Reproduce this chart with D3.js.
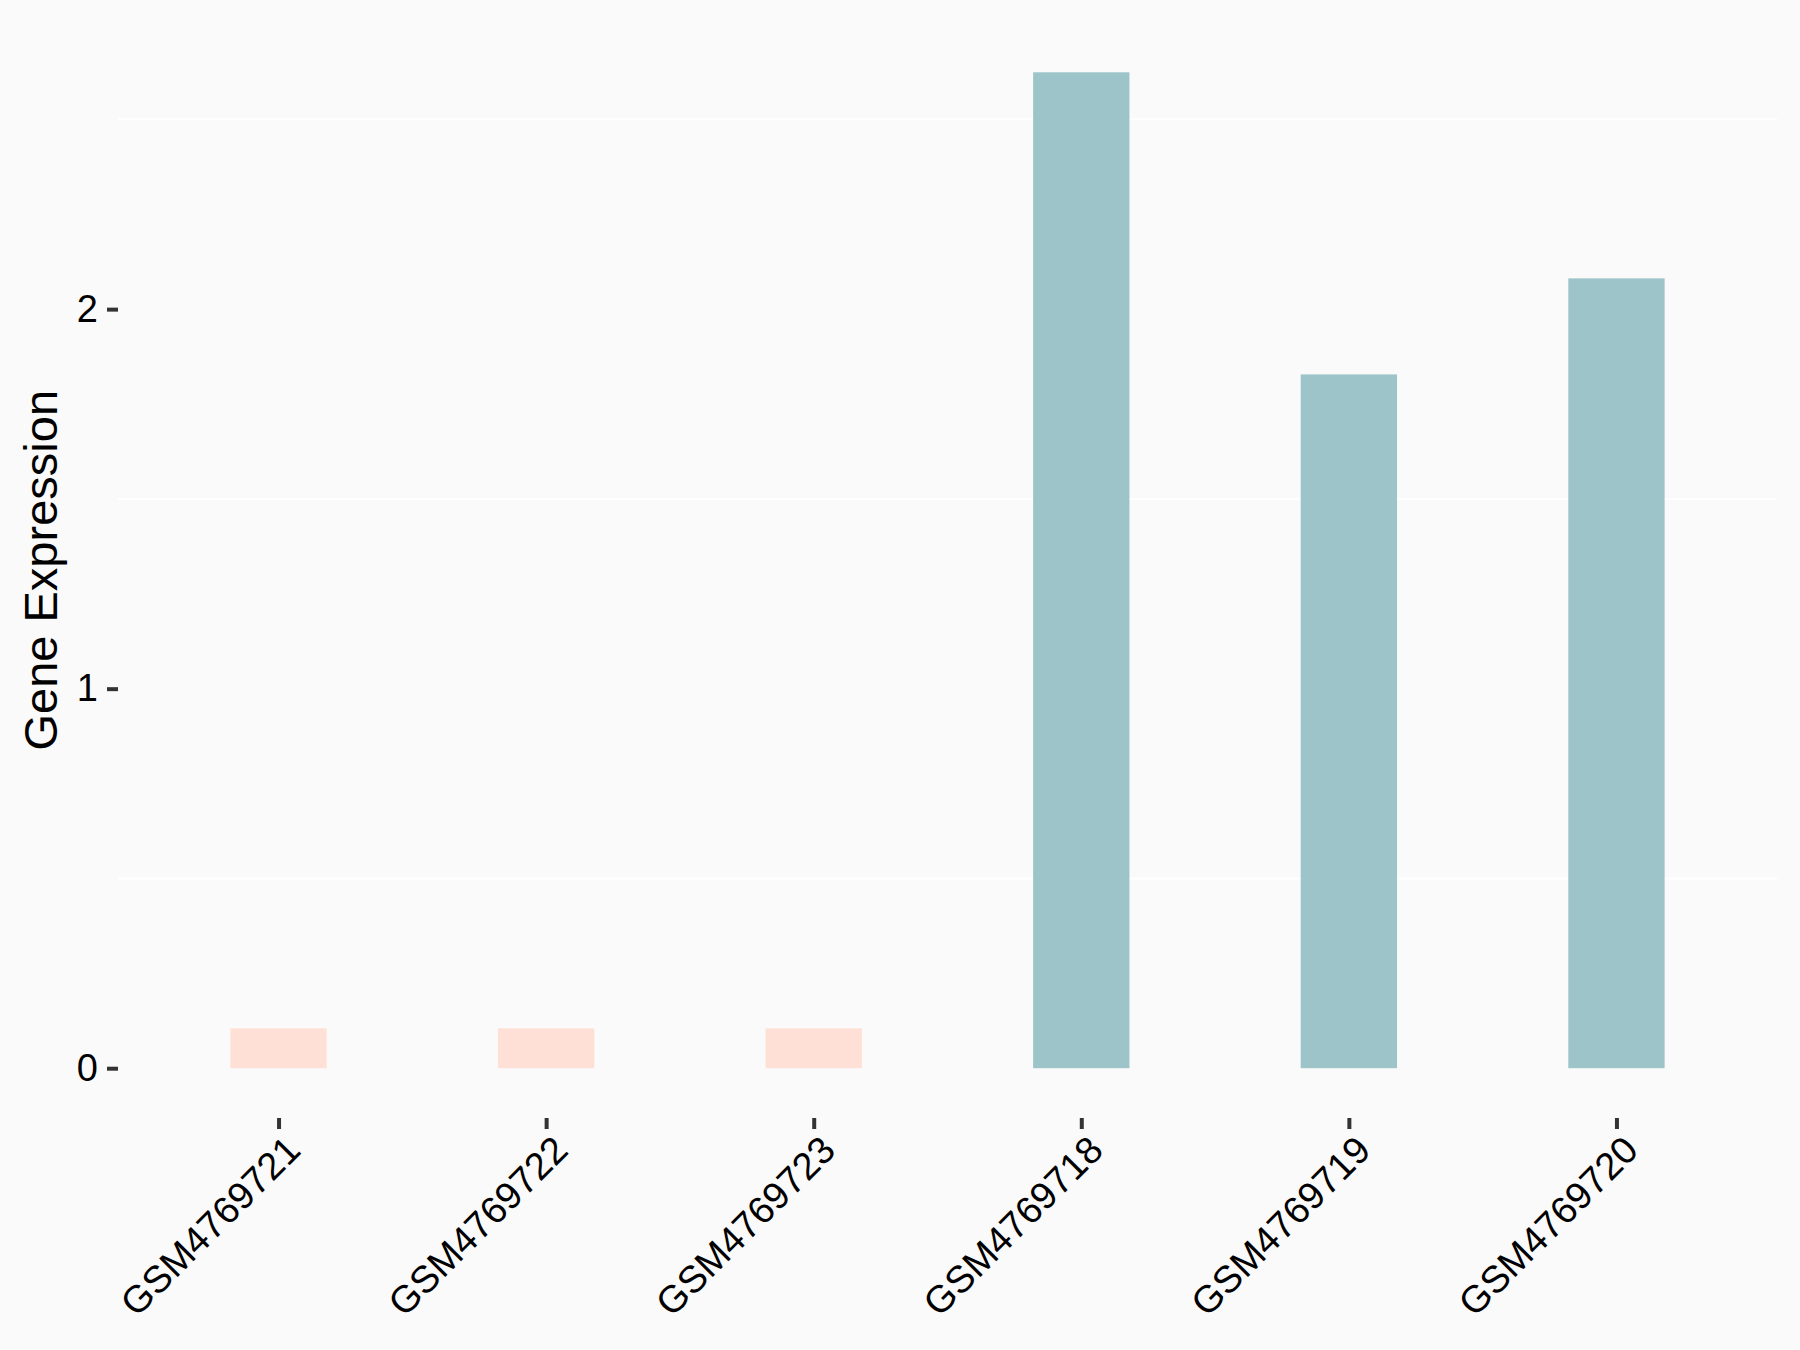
<!DOCTYPE html>
<html>
<head>
<meta charset="utf-8">
<script src="https://cdn.jsdelivr.net/npm/d3@7"></script>
<style>
  html, body { margin: 0; padding: 0; background: #FAFAFA; }
  svg { display: block; }
</style>
</head>
<body>
<script>
// ---- data ----
const samples = ["GSM4769721", "GSM4769722", "GSM4769723", "GSM4769718", "GSM4769719", "GSM4769720"];
const groups  = ["low", "low", "low", "high", "high", "high"];
const values  = [0.105, 0.105, 0.105, 2.624, 1.828, 2.081];
const yTicks  = [0, 1, 2];
const yMinorGrid = [0.5, 1.5, 2.5];
const groupColors = { low: "#FFE0D6", high: "#9DC4C8" };

const W = 1800, H = 1350;
const plot = { left: 118, right: 1777, top: 22.5, bottom: 1118 };

const svg = d3.select("body").append("svg")
  .attr("width", W).attr("height", H)
  .style("font-family", "Arial, 'Liberation Sans', sans-serif");

svg.append("rect").attr("width", W).attr("height", H).attr("fill", "#FAFAFA");

// x: discrete with 0.6 unit expansion each side
const x = d3.scalePoint().domain(samples)
  .range([plot.left, plot.right]).padding(0.6);
const step = x.step();
const barW = step * 0.36;

const ymax = d3.max(values);
const y = d3.scaleLinear()
  .domain([-ymax * 0.05, ymax * 1.05])
  .range([plot.bottom, plot.top]);

// minor grid lines
svg.append("g").selectAll("line").data(yMinorGrid).join("line")
  .attr("x1", plot.left).attr("x2", plot.right)
  .attr("y1", d => y(d)).attr("y2", d => y(d))
  .attr("stroke", "#FFFFFF").attr("stroke-width", 2);

// bars
svg.append("g").selectAll("rect").data(samples).join("rect")
  .attr("x", (d) => x(d) - barW / 2)
  .attr("width", barW)
  .attr("y", (d, i) => y(values[i]))
  .attr("height", (d, i) => y(0) - y(values[i]))
  .attr("fill", (d, i) => groupColors[groups[i]]);

// y axis
const yAxis = d3.axisLeft(y).tickValues(yTicks).tickFormat(d3.format("d"))
  .tickSize(11).tickPadding(9);
const gy = svg.append("g").attr("transform", `translate(${plot.left},0)`).call(yAxis);
gy.select(".domain").remove();
gy.selectAll(".tick line").attr("stroke", "#333333").attr("stroke-width", 4);
gy.selectAll(".tick text").attr("fill", "#000").style("font-size", "38px")
  .style("font-family", "Arial, 'Liberation Sans', sans-serif");

// x axis
const xAxis = d3.axisBottom(x).tickSize(11).tickPadding(0);
const gx = svg.append("g").attr("transform", `translate(0,${plot.bottom})`).call(xAxis);
gx.select(".domain").remove();
gx.selectAll(".tick line").attr("stroke", "#333333").attr("stroke-width", 4);
gx.selectAll(".tick text")
  .attr("fill", "#000")
  .style("font-size", "38px")
  .style("font-family", "Arial, 'Liberation Sans', sans-serif")
  .attr("text-anchor", "end")
  .attr("x", 0).attr("y", 0).attr("dy", "0.72em")
  .attr("transform", "translate(4,15) rotate(-45)");

// y axis title
svg.append("text")
  .attr("transform", `translate(57,${(plot.top + plot.bottom) / 2}) rotate(-90)`)
  .attr("text-anchor", "middle")
  .attr("fill", "#000")
  .style("font-size", "47px")
  .text("Gene Expression");
</script>
</body>
</html>
